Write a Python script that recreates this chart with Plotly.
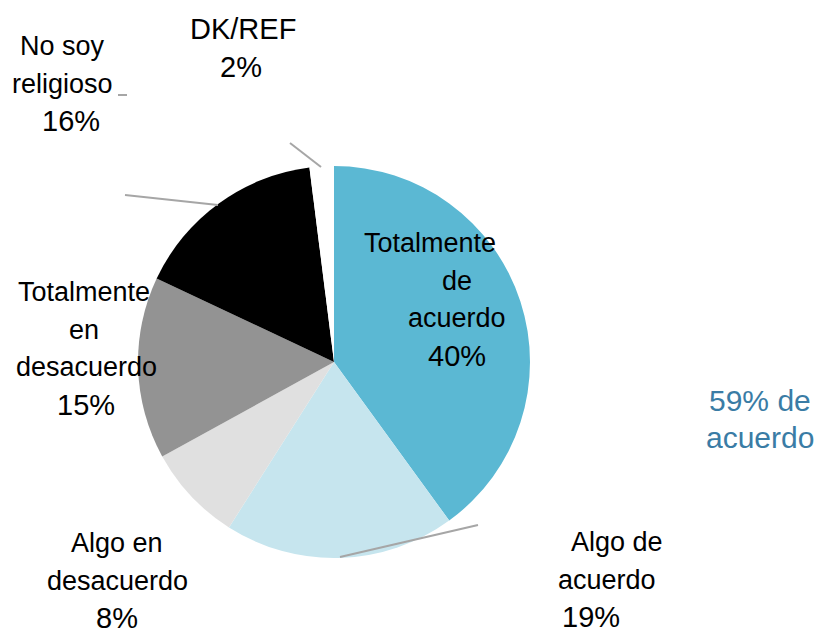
import plotly.graph_objects as go

# Datos del gráfico
categorias = ['Totalmente de acuerdo', 'Algo de acuerdo', 'Algo en desacuerdo',
              'Totalmente en desacuerdo', 'No soy religioso', 'DK/REF']
valores = [40, 19, 8, 15, 16, 2]
colores = ['#5BB8D3', '#C6E5EE', '#E0E0E0', '#939393', '#000000', '#FFFFFF']

# Etiquetas (líneas de texto) y su posición en píxeles
etiquetas = [
    (['Totalmente', 'de', 'acuerdo', '40%'], [430, 457, 457, 457], 243),
    (['Algo de', 'acuerdo', '19%'], [617, 607, 591], 542),
    (['Algo en', 'desacuerdo', '8%'], [117, 117, 117], 543),
    (['Totalmente', 'en', 'desacuerdo', '15%'], [84, 84, 86, 86], 292),
    (['No soy', 'religioso', '16%'], [62, 62, 71], 46),
    (['DK/REF', '2%'], [243, 241], 29),
]
resumen = ['59% de', 'acuerdo']

W, H = 822, 635
def px(x):
    return x / W
def py(y):
    return 1 - y / H

fig = go.Figure()

fig.add_trace(go.Pie(
    labels=categorias,
    values=valores,
    sort=False,
    direction='clockwise',
    rotation=0,
    marker=dict(colors=colores, line=dict(width=0)),
    textinfo='none',
    hoverinfo='label+percent',
    showlegend=False,
    domain=dict(x=[px(138), px(530)], y=[py(558), py(166)]),
))

familia = 'Liberation Sans, Arial, sans-serif'
salto = 37.5

for lineas, xs, y0 in etiquetas:
    for i, (txt, x) in enumerate(zip(lineas, xs)):
        tam = 29 if ('%' in txt or txt == 'DK/REF') else 27
        fig.add_annotation(x=px(x), y=py(y0 + i * salto), xref='paper', yref='paper',
                           text=txt, showarrow=False,
                           font=dict(family=familia, size=tam, color='#000000'),
                           xanchor='center', yanchor='middle')

for i, txt in enumerate(resumen):
    fig.add_annotation(x=px(760), y=py(400 + i * 37), xref='paper', yref='paper',
                       text=txt, showarrow=False,
                       font=dict(family=familia, size=30, color='#3A7CA5'),
                       xanchor='center', yanchor='middle')

# Líneas guía
guias = [
    (290, 143, 321, 167),
    (118, 95, 127, 95),
    (125, 195, 218, 205),
    (340, 557, 478, 525),
]
for x0, y0, x1, y1 in guias:
    fig.add_shape(type='line', xref='paper', yref='paper',
                  x0=px(x0), y0=py(y0), x1=px(x1), y1=py(y1),
                  line=dict(color='#A6A6A6', width=2))

fig.update_layout(
    width=W, height=H,
    margin=dict(l=0, r=0, t=0, b=0),
    paper_bgcolor='white',
    plot_bgcolor='white',
)

fig.write_html('out.html', config={'displayModeBar': False},
               post_script="document.body.style.margin='0';")
